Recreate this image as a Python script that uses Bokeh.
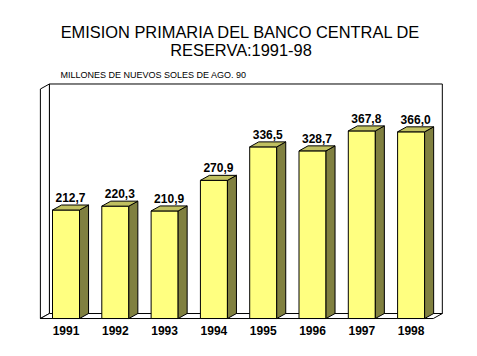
from bokeh.plotting import figure
from bokeh.models import Label, ColumnDataSource, Range1d
from bokeh.core.properties import value
from bokeh.embed import file_html
from bokeh.resources import INLINE

# ---- data ----
years = ["1991", "1992", "1993", "1994", "1995", "1996", "1997", "1998"]
values = [212.7, 220.3, 210.9, 270.9, 336.5, 328.7, 367.8, 366.0]
value_labels = ["212,7", "220,3", "210,9", "270,9", "336,5", "328,7", "367,8", "366,0"]
title_line1 = "EMISION PRIMARIA DEL BANCO CENTRAL DE"
title_line2 = "RESERVA:1991-98"
subtitle = "MILLONES DE NUEVOS SOLES DE AGO. 90"
axis_max = 450

# ---- style / geometry ----
W, H = 461, 340
half_w = 0.274          # half width of front face (category units)
dx, dy = 0.183, 9.8     # 3-D depth offsets (category units, value units)
wall_lo, wall_hi = -0.52, 7.45
FRONT = "#FFFF80"
SIDE = "#808040"
TOP = "#C0C060"
FONT = "Liberation Sans"

p = figure(width=W, height=H, output_backend="svg", toolbar_location=None,
           x_range=Range1d(-1.329, 8.022), y_range=Range1d(-43.1, 623.5),
           min_border=0, outline_line_color=None)
p.axis.visible = False
p.grid.visible = False
p.background_fill_color = "white"
p.border_fill_color = "white"

# walls
p.patch([wall_lo + dx, wall_hi + dx, wall_hi + dx, wall_lo + dx],
        [dy, dy, axis_max + dy, axis_max + dy],
        fill_color="white", line_color="black", line_width=1)
p.patch([wall_lo, wall_lo + dx, wall_lo + dx, wall_lo],
        [0, dy, axis_max + dy, axis_max],
        fill_color="white", line_color="black", line_width=1)
p.patch([wall_lo, wall_hi, wall_hi + dx, wall_lo + dx],
        [0, 0, dy, dy],
        fill_color="white", line_color="black", line_width=1)

xs = list(range(len(years)))
front_x, front_y, side_x, side_y, top_x, top_y = [], [], [], [], [], []
for i, v in zip(xs, values):
    l, r = i - half_w, i + half_w
    front_x.append([l, r, r, l]); front_y.append([0, 0, v, v])
    side_x.append([r, r + dx, r + dx, r]); side_y.append([0, dy, v + dy, v])
    top_x.append([l, r, r + dx, l + dx]); top_y.append([v, v, v + dy, v + dy])

p.patches(front_x, front_y, fill_color=FRONT, line_color="black", line_width=1)
p.patches(side_x, side_y, fill_color=SIDE, line_color="black", line_width=1)
p.patches(top_x, top_y, fill_color=TOP, line_color="black", line_width=1)

lab_src = ColumnDataSource(dict(x=[i + dx / 2 for i in xs],
                                y=[v + dy for v in values],
                                t=value_labels))
p.text(x="x", y="y", text="t", source=lab_src, text_align="center",
       text_baseline="bottom", y_offset=-3, text_font=value(FONT),
       text_font_size="12px", text_font_style="bold", text_color="black")

yr_src = ColumnDataSource(dict(x=xs, y=[0] * len(xs), t=years))
p.text(x="x", y="y", text="t", source=yr_src, text_align="center",
       text_baseline="top", y_offset=7, text_font=value(FONT),
       text_font_size="12px", text_font_style="bold", text_color="black")

for txt, yy in [(title_line1, 309), (title_line2, 291)]:
    p.add_layout(Label(x=240.5, y=yy, x_units="screen", y_units="screen", text=txt,
                       text_align="center", text_baseline="alphabetic",
                       text_font=FONT, text_font_size="16.4px", text_color="black"))
p.add_layout(Label(x=60, y=266, x_units="screen", y_units="screen", text=subtitle,
                   text_align="left", text_baseline="alphabetic",
                   text_font=FONT, text_font_size="9px", text_color="black"))

open("out.html", "w").write(file_html(p, INLINE))
